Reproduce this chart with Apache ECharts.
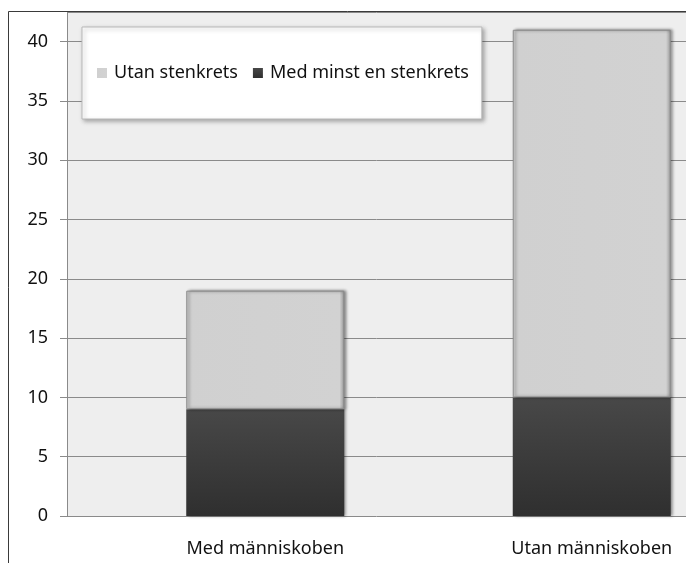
<!DOCTYPE html>
<html>
<head>
<meta charset="utf-8">
<script src="https://cdn.jsdelivr.net/npm/echarts@6/dist/echarts.min.js"></script>
<style>
html,body{margin:0;padding:0;background:#fff;}
#c{width:686px;height:563px;}
</style>
</head>
<body>
<div id="c"></div>
<script>
const categories = ['Med människoben', 'Utan människoben'];
const seriesNames = ['Utan stenkrets', 'Med minst en stenkrets'];
const medMinstEnStenkrets = [9, 10];
const utanStenkrets = [10, 31];
const yTicks = { min: 0, max: 42.5, interval: 5 };

const FONT = '"Noto Sans", "Open Sans", sans-serif';
const chart = echarts.init(document.getElementById('c'));
chart.setOption({
  backgroundColor: '#ffffff',
  animation: false,
  textStyle: { fontFamily: FONT },
  graphic: [{
    type: 'polyline',
    shape: { points: [[8.5, 563], [8.5, 11.5], [686, 11.5]] },
    style: { stroke: '#3a3a3a', lineWidth: 1, fill: null },
    z: 10
  }],
  legend: {
    data: seriesNames,
    left: 82, top: 27,
    orient: 'horizontal',
    backgroundColor: '#ffffff',
    borderColor: '#b8b8b8',
    borderWidth: 1,
    shadowColor: 'rgba(0,0,0,0.3)',
    shadowBlur: 4,
    shadowOffsetX: 2,
    shadowOffsetY: 2,
    padding: [37, 13, 37, 15],
    itemGap: 15,
    itemWidth: 10,
    itemHeight: 10,
    icon: 'rect',
    itemStyle: { borderWidth: 0, shadowBlur: 0, shadowOffsetX: 0 },
    textStyle: { fontSize: 18, color: '#111', fontFamily: FONT, padding: [0, 0, 0, 2] }
  },
  grid: [
    { left: 67, top: 12, right: 0, bottom: 47, show: true, backgroundColor: '#eeeeee', borderWidth: 0, outerBoundsMode: 'none' },
    { left: 102, top: 12, width: 653, bottom: 47, show: false, outerBoundsMode: 'none' }
  ],
  xAxis: [
    { type: 'category', gridIndex: 0, data: [''], show: false },
    {
      type: 'category', gridIndex: 1, data: categories,
      axisLine: { show: false }, axisTick: { show: false },
      axisLabel: { fontSize: 18, color: '#111', margin: 24, fontFamily: FONT }
    }
  ],
  yAxis: [
    {
      type: 'value', gridIndex: 0, min: yTicks.min, max: yTicks.max, interval: yTicks.interval,
      axisLine: { show: true, lineStyle: { color: '#8a8a8a' } },
      axisTick: { show: true, length: 7, lineStyle: { color: '#8a8a8a' } },
      axisLabel: { fontSize: 18, color: '#111', margin: 19, showMaxLabel: false, fontFamily: FONT,
        formatter: v => (v % 5 === 0 ? String(v) : '') },
      splitLine: { show: true, lineStyle: { color: '#8a8a8a', width: 1 } }
    },
    {
      type: 'value', gridIndex: 1, min: yTicks.min, max: yTicks.max, interval: yTicks.interval,
      show: false, splitLine: { show: false }
    }
  ],
  series: [
    {
      name: seriesNames[1], type: 'bar', stack: 'total',
      xAxisIndex: 1, yAxisIndex: 1, barWidth: 158,
      data: medMinstEnStenkrets,
      itemStyle: {
        color: new echarts.graphic.LinearGradient(0, 0, 0, 1, [
          { offset: 0, color: '#484848' }, { offset: 1, color: '#2f2f2f' }
        ]),
        shadowColor: 'rgba(0,0,0,0.45)', shadowBlur: 3, shadowOffsetX: 2, shadowOffsetY: 0
      }
    },
    {
      name: seriesNames[0], type: 'bar', stack: 'total',
      xAxisIndex: 1, yAxisIndex: 1, barWidth: 158,
      data: utanStenkrets,
      itemStyle: {
        color: new echarts.graphic.LinearGradient(0, 0, 1, 0, [
          { offset: 0, color: '#d0d0d0' }, { offset: 0.97, color: '#d2d2d2' }, { offset: 1, color: '#9a9a9a' }
        ]),
        borderColor: '#8c8c8c', borderWidth: 1,
        shadowColor: 'rgba(0,0,0,0.45)', shadowBlur: 3, shadowOffsetX: 2, shadowOffsetY: 0
      }
    }
  ]
});
</script>
</body>
</html>
